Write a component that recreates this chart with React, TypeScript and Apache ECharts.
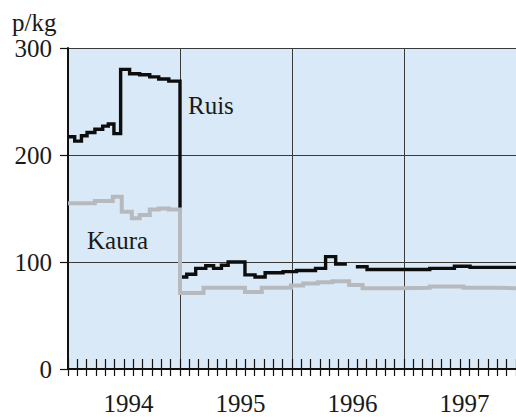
import React, { useEffect, useRef } from "react";
import * as echarts from "echarts";

// Step breakpoints (decimal years) and prices (p/kg); null = gap in the series
const ruisTimes = [
  1994.0, 1994.06, 1994.12, 1994.17, 1994.24, 1994.31, 1994.36, 1994.41, 1994.47, 1994.55,
  1994.64, 1994.73, 1994.81, 1994.9, 1995.0, 1995.06, 1995.14, 1995.23, 1995.3, 1995.37,
  1995.43, 1995.58, 1995.67, 1995.76, 1995.92, 1996.04, 1996.21, 1996.3, 1996.39, 1996.49,
  1996.57, 1996.67, 1997.23, 1997.45, 1997.59,
];
const ruisValues: (number | null)[] = [
  217, 213, 218, 221, 224, 227, 229, 220, 280, 276,
  275, 273, 271, 269, 86, 88.5, 94, 96.5, 94, 97,
  100, 88, 86, 90, 91, 92, 94, 105, 98, null,
  95.5, 93, 94, 96, 95,
];
const kauraTimes = [
  1994.0, 1994.24, 1994.4, 1994.48, 1994.57, 1994.64, 1994.73, 1994.81, 1994.9, 1995.0,
  1995.21, 1995.58, 1995.73, 1995.99, 1996.1, 1996.23, 1996.36, 1996.51, 1996.63, 1996.94,
  1997.23, 1997.53, 1997.82,
];
const kauraValues: (number | null)[] = [
  155, 157, 161, 147, 141, 144, 149, 150, 149, 71,
  76, 72, 76, 78, 80, 81, 82, 78.5, 75.5, 76,
  77, 76, 75.5,
];
const endTime = 1998;
const yearLabels = ["1994", "1995", "1996", "1997"];
const yTicks = { min: 0, max: 300, interval: 100 };
const unitLabel = "p/kg";
const seriesNames = ["Ruis", "Kaura"];

const FONT = "'Liberation Serif', 'Times New Roman', 'DejaVu Serif', serif";

function stepData(times: number[], values: (number | null)[], end: number) {
  const out: any[] = [];
  for (let i = 0; i < values.length; i++) {
    const t0 = times[i];
    const t1 = i + 1 < times.length ? times[i + 1] : end;
    const v = values[i];
    if (v == null) {
      out.push([t0, "-"]);
      continue;
    }
    out.push([t0, v], [t1, v]);
  }
  return out;
}

export default function App() {
  const ref = useRef<HTMLDivElement>(null);
  useEffect(() => {
    if (!ref.current) return;
    const chart = echarts.init(ref.current, undefined, { renderer: "svg" });
    const tickLine = { color: "#111", width: 1.2 };
    chart.setOption({
      animation: false,
      backgroundColor: "#ffffff",
      grid: {
        left: 68,
        top: 48,
        width: 452,
        height: 321,
        show: true,
        backgroundColor: "#dae9f7",
        borderWidth: 0,
      },
      xAxis: [
        {
          type: "value",
          min: 1994,
          max: endTime,
          interval: 1,
          position: "bottom",
          axisLine: { show: true, onZero: false, lineStyle: { color: "#111", width: 1.8 } },
          axisTick: { show: true, inside: true, length: 10, lineStyle: tickLine },
          minorTick: { show: true, splitNumber: 12, length: 10, lineStyle: tickLine },
          axisLabel: { show: false },
          splitLine: { show: true, lineStyle: { color: "#3a3a3a", width: 1 } },
        },
        {
          type: "value",
          min: 1994,
          max: endTime,
          interval: 1,
          position: "bottom",
          axisLine: { show: false },
          axisTick: { show: true, inside: false, length: 7, lineStyle: tickLine },
          minorTick: { show: true, splitNumber: 12, length: 7, lineStyle: tickLine },
          axisLabel: { show: false },
          splitLine: { show: false },
        },
        {
          type: "category",
          data: yearLabels,
          position: "bottom",
          boundaryGap: true,
          axisLine: { show: false },
          axisTick: { show: false },
          splitLine: { show: false },
          axisLabel: {
            color: "#1a1a1a",
            fontSize: 25,
            fontFamily: FONT,
            margin: 22,
            padding: [0, 0, 0, 9],
          },
        },
      ],
      yAxis: {
        type: "value",
        min: yTicks.min,
        max: yTicks.max,
        interval: yTicks.interval,
        axisLine: { show: true, lineStyle: { color: "#111", width: 2 } },
        axisTick: { show: true, length: 8, lineStyle: { color: "#111", width: 1.2 } },
        axisLabel: {
          color: "#1a1a1a",
          fontSize: 25,
          fontFamily: FONT,
          margin: 16,
          padding: [4, 0, 0, 0],
        },
        splitLine: { show: true, lineStyle: { color: "#3a3a3a", width: 1 } },
      },
      graphic: [
        {
          type: "text",
          left: 12,
          top: 10,
          style: { text: unitLabel, fontSize: 25, fontFamily: FONT, fill: "#1a1a1a" },
        },
        {
          type: "text",
          left: 188,
          top: 93,
          style: { text: seriesNames[0], fontSize: 25, fontFamily: FONT, fill: "#1a1a1a" },
        },
        {
          type: "text",
          left: 87,
          top: 228,
          style: { text: seriesNames[1], fontSize: 25, fontFamily: FONT, fill: "#1a1a1a" },
        },
      ],
      series: [
        {
          name: seriesNames[0],
          type: "line",
          xAxisIndex: 0,
          data: stepData(ruisTimes, ruisValues, endTime),
          showSymbol: false,
          symbol: "none",
          connectNulls: false,
          lineStyle: { color: "#0d0d0d", width: 3.4, join: "miter", cap: "butt" },
          z: 3,
        },
        {
          name: seriesNames[1],
          type: "line",
          xAxisIndex: 0,
          data: stepData(kauraTimes, kauraValues, endTime),
          showSymbol: false,
          symbol: "none",
          connectNulls: false,
          lineStyle: { color: "#b6babe", width: 4, join: "miter", cap: "butt" },
          z: 4,
        },
      ],
    });
    return () => chart.dispose();
  }, []);
  return (
    <div
      ref={ref}
      style={{ position: "fixed", left: 0, top: 0, width: 516, height: 418 }}
    />
  );
}
